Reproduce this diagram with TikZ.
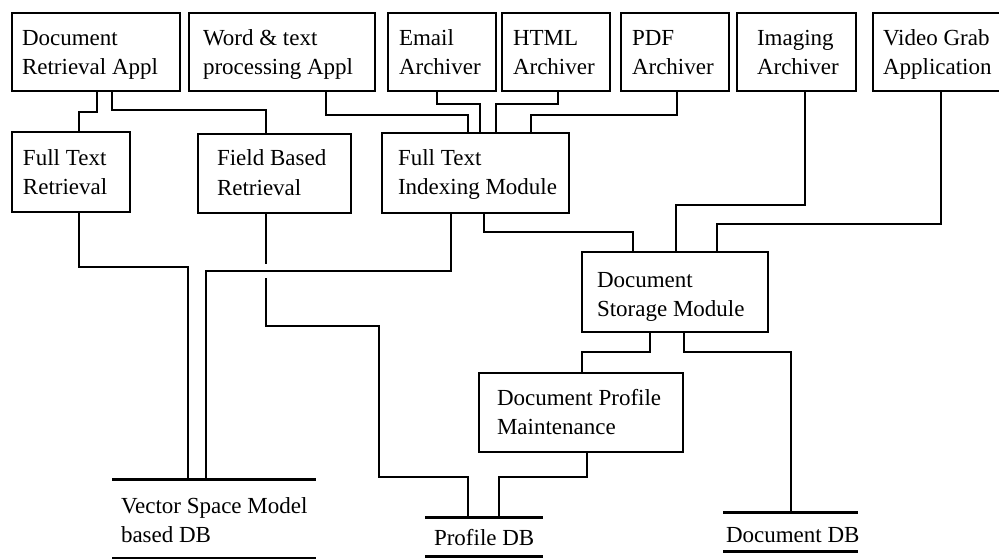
\documentclass[tikz,border=0pt]{standalone}
\usepackage{fontspec}
\setmainfont{Liberation Serif}
\begin{document}
\begin{tikzpicture}[x=1pt,y=-1pt,
  box/.style={draw, line width=1.6pt, anchor=north west, outer sep=0pt, inner sep=0pt, minimum height=79pt},
  txt/.style={anchor=north west, inner sep=0pt, outer sep=0pt, align=left, font=\fontsize{23}{29}\selectfont},
  conn/.style={line width=1.6pt},
  dbline/.style={line width=3pt},
  dbarea/.style={anchor=north west, inner sep=0pt, outer sep=0pt}
]
\useasboundingbox (0,0) rectangle (999,559);
% boxes
\node[box, minimum width=168pt, minimum height=78pt] (dra) at (12,13) {};
\node[box, minimum width=186pt, minimum height=78pt] (word) at (189,13) {};
\node[box, minimum width=108pt, minimum height=78pt] (email) at (388,13) {};
\node[box, minimum width=108pt, minimum height=78pt] (html) at (502,13) {};
\node[box, minimum width=108pt, minimum height=78pt] (pdf) at (621,13) {};
\node[box, minimum width=119pt, minimum height=78pt] (img) at (737,13) {};
\node[box, minimum width=128pt, minimum height=78pt] (video) at (873,13) {};
\node[box, minimum width=118pt, minimum height=80pt] (ftr) at (12,132) {};
\node[box, minimum width=153pt, minimum height=79pt] (fbr) at (198,134) {};
\node[box, minimum width=187pt, minimum height=80pt] (fti) at (382,133) {};
\node[box, minimum width=186pt, minimum height=80pt] (dsm) at (582,252) {};
\node[box, minimum width=204pt, minimum height=79pt] (dpm) at (479,373) {};
% texts
\node[txt] (dra-t) at ([shift={(10,12.7)}]dra.north west) {\strut Document\\\strut Retrieval Appl};
\node[txt] (word-t) at ([shift={(14,12.7)}]word.north west) {\strut Word \& text\\\strut processing Appl};
\node[txt] (email-t) at ([shift={(11,12.7)}]email.north west) {\strut Email\\\strut Archiver};
\node[txt] (html-t) at ([shift={(11,12.7)}]html.north west) {\strut HTML\\\strut Archiver};
\node[txt] (pdf-t) at ([shift={(11,12.7)}]pdf.north west) {\strut PDF\\\strut Archiver};
\node[txt] (img-t) at ([shift={(20,12.7)}]img.north west) {\strut Imaging\\\strut Archiver};
\node[txt] (video-t) at ([shift={(10,12.7)}]video.north west) {\strut Video Grab\\\strut Application};
\node[txt] (ftr-t) at ([shift={(11,12.7)}]ftr.north west) {\strut Full Text\\\strut Retrieval};
\node[txt] (fbr-t) at ([shift={(19,11.7)}]fbr.north west) {\strut Field Based\\\strut Retrieval};
\node[txt] (fti-t) at ([shift={(16,11.7)}]fti.north west) {\strut Full Text\\\strut Indexing Module};
\node[txt] (dsm-t) at ([shift={(15,14.7)}]dsm.north west) {\strut Document\\\strut Storage Module};
\node[txt] (dpm-t) at ([shift={(18,11.7)}]dpm.north west) {\strut Document Profile\\\strut Maintenance};
% databases
\node[dbarea, minimum width=204pt, minimum height=79pt] (vsm) at (112,479) {};
\node[dbarea, minimum width=118pt, minimum height=39pt] (pdb) at (425,517) {};
\node[dbarea, minimum width=135pt, minimum height=39pt] (ddb) at (723,512) {};
\draw[dbline] (vsm.north west) -- (vsm.north east);
\draw[dbline] (vsm.south west) -- (vsm.south east);
\draw[dbline] (pdb.north west) -- (pdb.north east);
\draw[dbline] (pdb.south west) -- (pdb.south east);
\draw[dbline] (ddb.north west) -- (ddb.north east);
\draw[dbline] (ddb.south west) -- (ddb.south east);
\node[txt] (vsm-t) at ([shift={(9,13.7)}]vsm.north west) {\strut Vector Space Model\\\strut based DB};
\node[txt] (pdb-t) at ([shift={(9,7.7)}]pdb.north west) {\strut Profile DB};
\node[txt] (ddb-t) at ([shift={(3,9.7)}]ddb.north west) {\strut Document DB};
% connectors
\draw[conn] ([xshift=85pt]dra.south west) -- ++(0,21) -| ([xshift=67pt]ftr.north west);
\draw[conn] ([xshift=100pt]dra.south west) -- ++(0,19) -| ([xshift=68pt]fbr.north west);
\draw[conn] ([xshift=137pt]word.south west) -- ++(0,24) -| ([xshift=86pt]fti.north west);
\draw[conn] ([xshift=49pt]email.south west) -- ++(0,13) -| ([xshift=98pt]fti.north west);
\draw[conn] ([xshift=56pt]html.south west) -- ++(0,13) -| ([xshift=114pt]fti.north west);
\draw[conn] ([xshift=56pt]pdf.south west) -- ++(0,24) -| ([xshift=149pt]fti.north west);
\draw[conn] ([xshift=68pt]img.south west) -- ++(0,114) -| ([xshift=94pt]dsm.north west);
\draw[conn] ([xshift=68pt]video.south west) -- ++(0,133) -| ([xshift=135pt]dsm.north west);
\draw[conn] ([xshift=102pt]fti.south west) -- ++(0,19) -| ([xshift=51pt]dsm.north west);
\draw[conn] ([xshift=69pt]fti.south west) -- ++(0,58) -| ([xshift=94pt]vsm.north west);
\draw[conn] ([xshift=67pt]ftr.south west) -- ++(0,55) -| ([xshift=76pt]vsm.north west);
\draw[conn] ([xshift=68pt]fbr.south west) -- ++(0,51);
\draw[conn] ([xshift=68pt]fbr.south west) ++(0,65) |- (379,326) |- (468,477) -- ([xshift=43pt]pdb.north west);
\draw[conn] ([xshift=68pt]dsm.south west) -- ++(0,20) -| ([xshift=103pt]dpm.north west);
\draw[conn] ([xshift=102pt]dsm.south west) -- ++(0,20) -| ([xshift=68pt]ddb.north west);
\draw[conn] ([xshift=108pt]dpm.south west) -- ++(0,25) -| ([xshift=74pt]pdb.north west);
\end{tikzpicture}
\end{document}
